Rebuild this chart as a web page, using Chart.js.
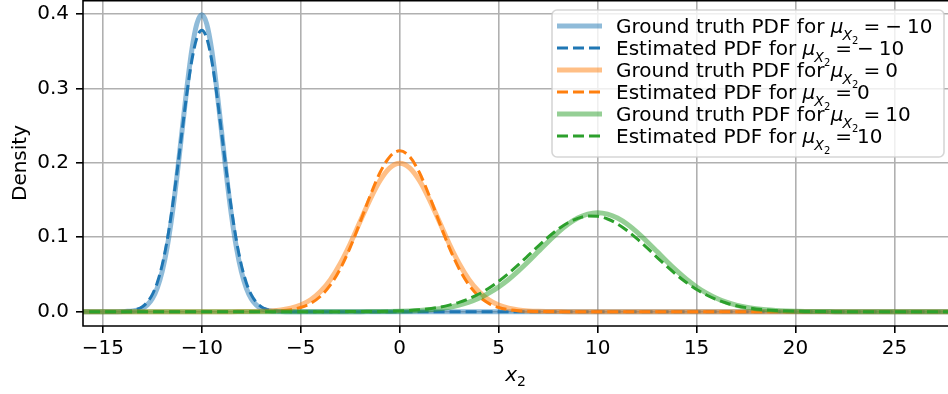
<!DOCTYPE html>
<html>
<head>
<meta charset="utf-8">
<script src="https://cdn.jsdelivr.net/npm/chart.js@4.4.1/dist/chart.umd.min.js"></script>
<style>
html, body { margin: 0; padding: 0; background: #fff; }
#wrap { width: 948px; height: 394px; }
</style>
</head>
<body>
<div id="wrap"><canvas id="myChart" width="948" height="394"></canvas></div>
<script>
// data
const means = [-10, 0, 10];
const xTicks = [-15, -10, -5, 0, 5, 10, 15, 20, 25];
const yTicks = [0, 0.1, 0.2, 0.3, 0.4];

const blueX = [-16.5,
  -14.5, -14.25, -14, -13.75, -13.5, -13.25, -13, -12.75, -12.5, -12.25, -12, -11.75,
  -11.5, -11.25, -11, -10.75, -10.5, -10.25, -10, -9.75, -9.5, -9.25, -9, -8.75,
  -8.5, -8.25, -8, -7.75, -7.5, -7.25, -7, -6.75, -6.5, -6.25, -6, -5.75, -5.5,
  28];
const blueTrue = [0,
  0, 0, 0.0001, 0.0004, 0.0009, 0.0020, 0.0044, 0.0091, 0.0175, 0.0317, 0.0540, 0.0863,
  0.1295, 0.1827, 0.2420, 0.3011, 0.3521, 0.3867, 0.3989, 0.3867, 0.3521, 0.3011, 0.2420, 0.1827,
  0.1295, 0.0863, 0.0540, 0.0317, 0.0175, 0.0091, 0.0044, 0.0020, 0.0009, 0.0004, 0.0001, 0, 0,
  0];
const blueEst = [0,
  0, 0.0001, 0.0003, 0.0007, 0.0015, 0.0033, 0.0066, 0.0127, 0.0228, 0.0389, 0.0627, 0.0955,
  0.1376, 0.1874, 0.2413, 0.2937, 0.3380, 0.3676, 0.3781, 0.3676, 0.3380, 0.2937, 0.2413, 0.1874,
  0.1376, 0.0955, 0.0627, 0.0389, 0.0228, 0.0127, 0.0066, 0.0033, 0.0015, 0.0007, 0.0003, 0.0001, 0,
  0];

const orangeX = [-16.5,
  -8.5, -8, -7.5, -7, -6.5, -6, -5.5, -5, -4.5, -4, -3.5, -3, -2.5, -2, -1.5, -1, -0.5,
  0, 0.5, 1, 1.5, 2, 2.5, 3, 3.5, 4, 4.5, 5, 5.5, 6, 6.5, 7, 7.5, 8, 8.5,
  28];
const orangeTrue = [0,
  0, 0.0001, 0.0002, 0.0004, 0.0010, 0.0022, 0.0045, 0.0088, 0.0159, 0.0270, 0.0431, 0.0648, 0.0913, 0.1210, 0.1506, 0.1760, 0.1933,
  0.1995, 0.1933, 0.1760, 0.1506, 0.1210, 0.0913, 0.0648, 0.0431, 0.0270, 0.0159, 0.0088, 0.0045, 0.0022, 0.0010, 0.0004, 0.0002, 0.0001, 0,
  0];
const orangeEst = [0,
  0, 0, 0.0001, 0.0002, 0.0004, 0.0011, 0.0026, 0.0055, 0.0111, 0.0207, 0.0358, 0.0577, 0.0864, 0.1202, 0.1553, 0.1866, 0.2083,
  0.2161, 0.2083, 0.1866, 0.1553, 0.1202, 0.0864, 0.0577, 0.0358, 0.0207, 0.0111, 0.0055, 0.0026, 0.0011, 0.0004, 0.0002, 0.0001, 0, 0,
  0];

const greenX = [-16.5,
  -3, -2.5, -2, -1.5, -1, -0.5, 0, 0.5, 1, 1.5, 2, 2.5, 3, 3.5, 4, 4.5, 5, 5.5, 6, 6.5, 7, 7.5, 8, 8.5, 9, 9.5, 10,
  10.5, 11, 11.5, 12, 12.5, 13, 13.5, 14, 14.5, 15, 15.5, 16, 16.5, 17, 17.5, 18, 18.5, 19, 19.5, 20, 20.5, 21, 21.5, 22, 22.5,
  28];
const greenTrue = [0,
  0, 0, 0, 0.0001, 0.0002, 0.0003, 0.0005, 0.0009, 0.0015, 0.0024, 0.0038, 0.0058, 0.0087, 0.0127, 0.0180, 0.0248, 0.0332, 0.0432, 0.0547, 0.0673, 0.0807, 0.0940, 0.1065, 0.1174, 0.1258, 0.1311, 0.1330,
  0.1311, 0.1258, 0.1174, 0.1065, 0.0940, 0.0807, 0.0673, 0.0547, 0.0432, 0.0332, 0.0248, 0.0180, 0.0127, 0.0087, 0.0058, 0.0038, 0.0024, 0.0015, 0.0009, 0.0005, 0.0003, 0.0002, 0.0001, 0, 0,
  0];
const greenEst = [0,
  0, 0.0001, 0.0001, 0.0002, 0.0003, 0.0006, 0.0010, 0.0016, 0.0025, 0.0039, 0.0059, 0.0087, 0.0125, 0.0174, 0.0237, 0.0315, 0.0408, 0.0514, 0.0631, 0.0755, 0.0881, 0.1000, 0.1107, 0.1194, 0.1254, 0.1284, 0.1281,
  0.1245, 0.1179, 0.1087, 0.0977, 0.0856, 0.0730, 0.0607, 0.0492, 0.0388, 0.0298, 0.0224, 0.0163, 0.0116, 0.0080, 0.0054, 0.0036, 0.0023, 0.0014, 0.0009, 0.0005, 0.0003, 0.0002, 0.0001, 0, 0,
  0];

const FONT = '"DejaVu Sans", sans-serif';
const toPoints = (xs, ys) => xs.map((x, i) => ({x: x, y: ys[i]}));
const fmt = v => (v < 0 ? '\u2212' + Math.abs(v) : String(v));

const series = [
  {xs: blueX, truth: blueTrue, est: blueEst, color: '31,119,180'},
  {xs: orangeX, truth: orangeTrue, est: orangeEst, color: '255,127,14'},
  {xs: greenX, truth: greenTrue, est: greenEst, color: '44,160,44'}
];

const datasets = [];
series.forEach((s, k) => {
  datasets.push({
    label: `Ground truth PDF for μX₂ = ${fmt(means[k])}`,
    prefix: 'Ground truth PDF for ',
    mean: means[k],
    data: toPoints(s.xs, s.truth),
    borderColor: `rgba(${s.color},0.5)`,
    borderWidth: 5
  });
  datasets.push({
    label: `Estimated PDF for μX₂ = ${fmt(means[k])}`,
    prefix: 'Estimated PDF for ',
    mean: means[k],
    data: toPoints(s.xs, s.est),
    borderColor: `rgb(${s.color})`,
    borderWidth: 3,
    borderDash: [11, 5]
  });
});
datasets.forEach((d, i) => {
  d.order = datasets.length - 1 - i;   // later series on top, like pyplot
  d.pointRadius = 0;
  d.fill = false;
  d.cubicInterpolationMode = 'monotone';
});

// math-style legend label: μ with subscript X with subscript 2
const drawLabel = (ctx, x, y, prefix, mean) => {
  ctx.textBaseline = 'alphabetic';
  ctx.textAlign = 'left';
  ctx.fillStyle = '#000';
  ctx.font = `20px ${FONT}`;
  ctx.fillText(prefix, x, y);
  x += ctx.measureText(prefix).width;
  ctx.font = `italic 20px ${FONT}`;
  ctx.fillText('μ', x, y);
  x += ctx.measureText('μ').width - 1;
  ctx.font = `italic 14px ${FONT}`;
  ctx.fillText('X', x, y + 7);
  x += ctx.measureText('X').width;
  ctx.font = `10px ${FONT}`;
  ctx.fillText('2', x, y + 11);
  x += ctx.measureText('2').width + 5;
  ctx.font = `20px ${FONT}`;
  ctx.fillText('=', x, y);
  x += ctx.measureText('=').width + 5;
  if (mean < 0) {
    ctx.fillText('\u2212', x, y);
    x += ctx.measureText('\u2212').width + 5;
  }
  ctx.fillText(String(Math.abs(mean)), x, y);
};

const decor = {
  id: 'decor',
  afterDraw(chart) {
    const {ctx, chartArea: a} = chart;
    ctx.save();
    // spines (top, left, bottom)
    ctx.strokeStyle = '#000';
    ctx.lineWidth = 1.6;
    ctx.setLineDash([]);
    ctx.beginPath();
    ctx.moveTo(a.right + 2, a.top + 0.8);
    ctx.lineTo(a.left, a.top + 0.8);
    ctx.lineTo(a.left, a.bottom);
    ctx.lineTo(a.right + 2, a.bottom);
    ctx.stroke();

    // axis titles
    ctx.fillStyle = '#000';
    ctx.textBaseline = 'alphabetic';
    ctx.font = `italic 20px ${FONT}`;
    const cx = (a.left + a.right) / 2;
    const wx = ctx.measureText('x').width;
    ctx.font = `14px ${FONT}`;
    const w2 = ctx.measureText('2').width;
    let tx = cx - (wx + w2) / 2;
    ctx.font = `italic 20px ${FONT}`;
    ctx.textAlign = 'left';
    ctx.fillText('x', tx, 381);
    ctx.font = `14px ${FONT}`;
    ctx.fillText('2', tx + wx, 386);

    ctx.save();
    ctx.translate(25.5, (a.top + a.bottom) / 2);
    ctx.rotate(-Math.PI / 2);
    ctx.textAlign = 'center';
    ctx.font = `20px ${FONT}`;
    ctx.fillText('Density', 0, 0);
    ctx.restore();

    // legend
    const box = {x: 552, y: 10, w: 392, h: 147, r: 5};
    ctx.beginPath();
    ctx.roundRect(box.x, box.y, box.w, box.h, box.r);
    ctx.fillStyle = 'rgba(255,255,255,0.8)';
    ctx.fill();
    ctx.strokeStyle = 'rgba(204,204,204,0.8)';
    ctx.lineWidth = 1.6;
    ctx.stroke();
    chart.data.datasets.forEach((d, i) => {
      const y = box.y + 16 + 22 * i;
      ctx.beginPath();
      ctx.setLineDash(d.borderDash || []);
      ctx.strokeStyle = d.borderColor;
      ctx.lineWidth = d.borderWidth;
      ctx.moveTo(557, y);
      ctx.lineTo(602, y);
      ctx.stroke();
      ctx.setLineDash([]);
      drawLabel(ctx, 616, y + 7, d.prefix, d.mean);
    });
    ctx.restore();
  }
};

const displayChart = () => {
  const ctx = document.getElementById('myChart');
  new Chart(ctx, {
    type: 'line',
    data: {datasets: datasets},
    options: {
      responsive: false,
      animation: false,
      devicePixelRatio: 1,
      events: [],
      layout: {padding: 0},
      plugins: {legend: {display: false}, tooltip: {enabled: false}},
      scales: {
        x: {
          type: 'linear',
          min: -16,
          max: 27.7,
          afterBuildTicks: scale => { scale.ticks = xTicks.map(v => ({value: v})); },
          afterFit: scale => {
            scale.height = 68;
            scale.paddingLeft = 0; scale.paddingRight = 0;
          },
          grid: {color: '#b0b0b0', lineWidth: 1.6, tickColor: '#000', tickLength: 7},
          border: {display: false},
          ticks: {
            color: '#000', padding: 4, maxRotation: 0, autoSkip: false,
            font: {family: FONT, size: 20},
            callback: v => fmt(v)
          }
        },
        y: {
          min: -0.0193,
          max: 0.4188,
          afterBuildTicks: scale => { scale.ticks = yTicks.map(v => ({value: v})); },
          afterFit: scale => {
            scale.width = 83;
            scale.paddingTop = 0; scale.paddingBottom = 0;
          },
          grid: {color: '#b0b0b0', lineWidth: 1.6, tickColor: '#000', tickLength: 7},
          border: {display: false},
          ticks: {
            color: '#000', padding: 7, autoSkip: false,
            font: {family: FONT, size: 20},
            callback: v => v.toFixed(1)
          }
        }
      }
    },
    plugins: [decor]
  });
};

displayChart();
</script>
</body>
</html>
